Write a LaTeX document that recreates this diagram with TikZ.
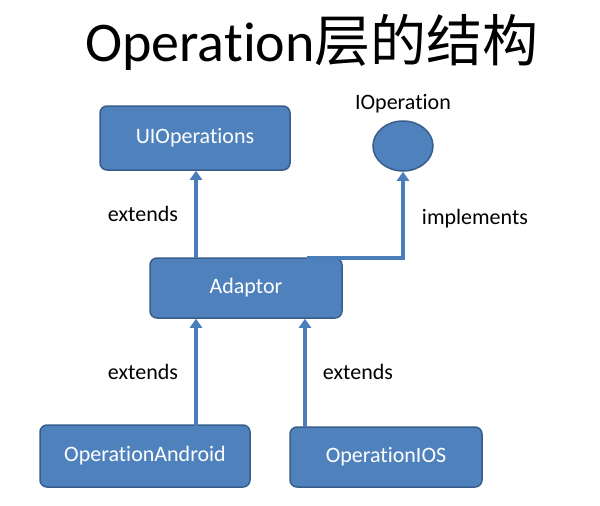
\documentclass[tikz,border=0pt]{standalone}
\usepackage{fontspec}
\setmainfont{Carlito}[Ligatures={NoCommon}]
\newfontfamily\cjk{Noto Sans CJK SC}
\usetikzlibrary{arrows.meta,shapes.geometric}
\definecolor{boxfill}{HTML}{4F81BD}
\definecolor{boxline}{HTML}{385D8A}
\definecolor{arr}{HTML}{4A7EBB}
\begin{document}
\begin{tikzpicture}[x=1pt,y=-1pt,
  box/.style={draw=boxline,line width=1.5pt,fill=boxfill,rounded corners=7pt,text=white,font=\fontsize{22}{24}\selectfont},
  conn/.style={draw=arr,line width=4pt,-{Triangle[length=9pt,width=12pt]}},
  lbl/.style={font=\fontsize{22}{24}\selectfont}]
\useasboundingbox (0,0) rectangle (600,506);
\node[font=\fontsize{56}{60}\selectfont] (title) at (312,42) {Operation{\cjk 层的结构}};
\node[box,minimum width=190pt,minimum height=64pt] (ui) at (195,138) {UIOperations};
\node[draw=boxline,line width=1.5pt,fill=boxfill,ellipse,minimum width=60pt,minimum height=50pt] (io) at (403,146) {};
\node[lbl] (iol) at (403,104) {IOperation};
\node[box,minimum width=192pt,minimum height=60pt] (ad) at (246,288) {Adaptor};
\node[box,minimum width=210pt,minimum height=62pt] (an) at (145,456) {OperationAndroid};
\node[box,minimum width=192pt,minimum height=60pt] (ios) at (386,457) {OperationIOS};
\coordinate (a1) at (196,258);
\coordinate (a2) at (307,258);
\coordinate (b1) at (196,426);
\coordinate (b2) at (305,427);
\draw[conn] (a1) -- (a1 |- ui.south);
\draw[conn] (a2) -- (403,258) -- (io.south);
\draw[conn] (b1) -- (b1 |- ad.south);
\draw[conn] (b2) -- (b2 |- ad.south);
\node[lbl] (e1) at (143,214) {extends};
\node[lbl] (e2) at (475,219) {implements};
\node[lbl] (e3) at (143,372) {extends};
\node[lbl] (e4) at (358,372) {extends};
\end{tikzpicture}
\end{document}
